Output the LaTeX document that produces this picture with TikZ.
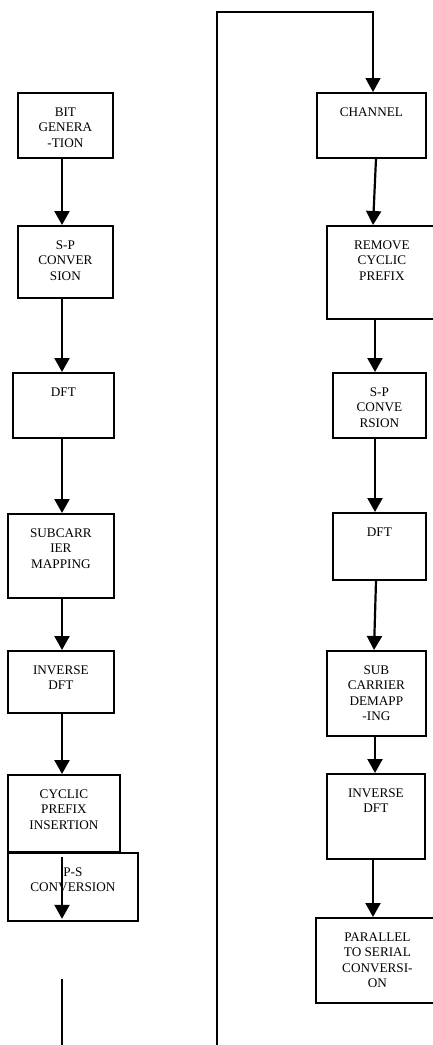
\documentclass[tikz,border=0pt]{standalone}
\usepackage{fontspec}
\setmainfont{Liberation Serif}
\usetikzlibrary{arrows.meta}

\newcommand{\blocktext}[3]{\parbox[c][#2pt][t]{#1pt}{\centering\vspace*{14.5pt}#3}}

\tikzset{
  blk/.style={draw, line width=1.8pt, inner sep=0pt, anchor=north west,
    font=\fontsize{13.2}{15.5}\selectfont},
  arr/.style={line width=2.2pt, -{Triangle[length=14pt,width=15pt]}},
  wire/.style={line width=1.8pt}
}

\begin{document}
\begin{tikzpicture}[x=1pt, y=-1pt]
  \useasboundingbox (0,0) rectangle (433,1045);
  \clip (0,0) rectangle (433,1045);

  % transmitter
  \node[blk] (bit) at (17,92) {\blocktext{95}{65}{BIT\\GENERA\\-TION}};
  \node[blk] (sp) at (17,225) {\blocktext{95}{72}{S-P\\CONVER\\SION}};
  \node[blk] (dft) at (12,372) {\blocktext{101}{65}{DFT}};
  \node[blk] (map) at (7,513) {\blocktext{106}{84}{SUBCARR\\IER\\MAPPING}};
  \node[blk] (idft) at (7,650) {\blocktext{106}{62}{INVERSE\\DFT}};
  \node[blk] (cp) at (7,774) {\blocktext{112}{77}{CYCLIC\\PREFIX\\INSERTION}};
  \node[blk] (ps) at (7,852) {\blocktext{130}{68}{P-S\\CONVERSION}};

  % receiver
  \node[blk] (chan) at (316,92) {\blocktext{109}{65}{CHANNEL}};
  \node[blk] (rcp) at (326,225) {\blocktext{110}{93}{REMOVE\\CYCLIC\\PREFIX}};
  \node[blk] (sp2) at (332,372) {\blocktext{93}{65}{S-P\\CONVE\\RSION}};
  \node[blk] (dft2) at (332,512) {\blocktext{93}{67}{DFT}};
  \node[blk] (demap) at (326,650) {\blocktext{99}{85}{SUB\\CARRIER\\DEMAPP\\-ING}};
  \node[blk] (idft2) at (326,773) {\blocktext{98}{85}{INVERSE\\DFT}};
  \node[blk] (p2s) at (315,917) {\blocktext{123}{85}{PARALLEL\\TO SERIAL\\CONVERSI-\\ON}};

  \coordinate (lx) at (62,0);
  \coordinate (rx) at (375,0);
  \coordinate (lbot) at (62,979);
  \coordinate (lend) at (62,1045);
  \coordinate (wbot) at (217,1045);
  \coordinate (wtop) at (217,12);

  % left arrows
  \draw[arr] (bit.south -| lx) -- (sp.north -| lx);
  \draw[arr] (sp.south -| lx) -- (dft.north -| lx);
  \draw[arr] (dft.south -| lx) -- (map.north -| lx);
  \draw[arr] (map.south -| lx) -- (idft.north -| lx);
  \draw[arr] (idft.south -| lx) -- (cp.north -| lx);
  \draw[arr] ([yshift=-4pt]cp.south -| lx) -- ([yshift=3pt]ps.south -| lx);
  \draw[wire] (lbot) -- (lend);

  % loop over to the receiver
  \draw[arr, line width=1.8pt] (wbot) -- (wtop) -| ([xshift=-2pt]chan.north -| rx);

  % right arrows
  \draw[arr] ([xshift=1pt]chan.south -| rx) -- ([xshift=-2pt]rcp.north -| rx);
  \draw[arr] (rcp.south -| rx) -- (sp2.north -| rx);
  \draw[arr] (sp2.south -| rx) -- (dft2.north -| rx);
  \draw[arr] ([xshift=1pt]dft2.south -| rx) -- ([xshift=-1pt]demap.north -| rx);
  \draw[arr] (demap.south -| rx) -- (idft2.north -| rx);
  \draw[arr] ([xshift=-2pt]idft2.south -| rx) -- ([xshift=-2pt]p2s.north -| rx);
\end{tikzpicture}
\end{document}
